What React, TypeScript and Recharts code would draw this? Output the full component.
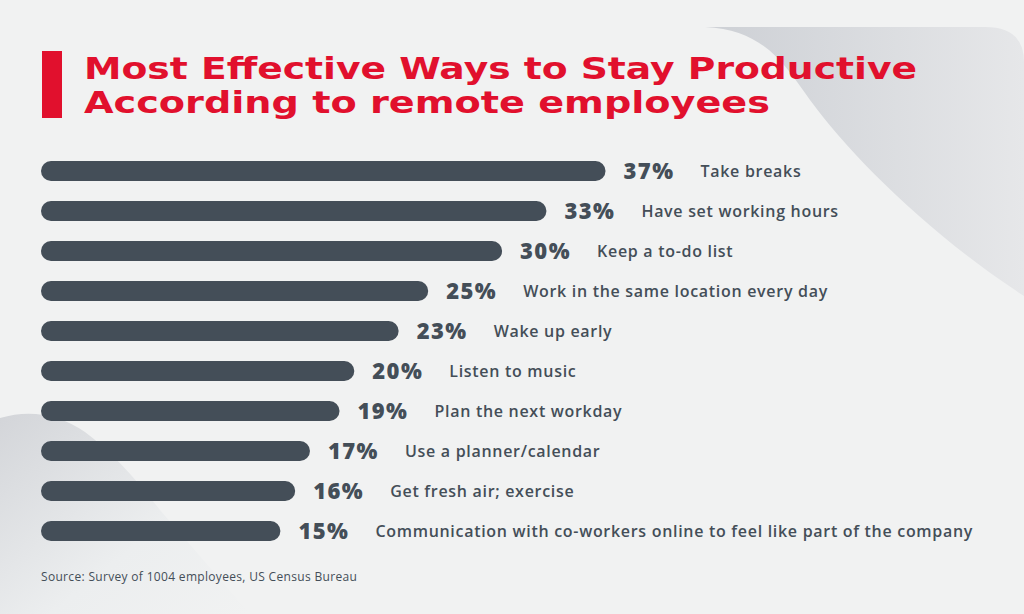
import React from "react";
import { BarChart, Bar, XAxis, YAxis, LabelList } from "recharts";

const categories = [
  "Take breaks",
  "Have set working hours",
  "Keep a to-do list",
  "Work in the same location every day",
  "Wake up early",
  "Listen to music",
  "Plan the next workday",
  "Use a planner/calendar",
  "Get fresh air; exercise",
  "Communication with co-workers online to feel like part of the company",
];
const percentages = [37, 33, 30, 25, 23, 20, 19, 17, 16, 15];

const data = categories.map((name, i) => ({ name, value: percentages[i] }));

const DARK = "#444e58";
const RED = "#e1102d";
const BAR_START = -1.2;
const AXIS_MAX = 59.7;

const PctLabel = (props: any) => {
  const { x, y, width, height, value } = props;
  return (
    <text
      x={x + width + 18}
      y={y + height / 2}
      dy="0.36em"
      fill={DARK}
      fontFamily="'Open Sans', sans-serif"
      fontWeight={800}
      fontSize={22}
      letterSpacing={1.4}
    >
      {value}%
    </text>
  );
};

const NameLabel = (props: any) => {
  const { x, y, width, height, value } = props;
  return (
    <text
      x={x + width + 95}
      y={y + height / 2}
      dy="0.35em"
      fill={DARK}
      fontFamily="'Open Sans', sans-serif"
      fontWeight={600}
      fontSize={16}
      letterSpacing={0.7}
    >
      {value}
    </text>
  );
};

export default function App() {
  return (
    <div
      style={{
        position: "absolute",
        left: 0,
        top: 0,
        width: 1024,
        height: 614,
        background: "#f1f2f2",
        overflow: "hidden",
      }}
    >
      <svg
        width={1024}
        height={614}
        style={{ position: "absolute", left: 0, top: 0 }}
      >
        <defs>
          <linearGradient id="tr" x1="0" y1="0" x2="1" y2="0">
            <stop offset="0" stopColor="#cdd0d5" />
            <stop offset="1" stopColor="#e6e7e9" />
          </linearGradient>
          <linearGradient id="bl" x1="0" y1="0" x2="1" y2="1">
            <stop offset="0" stopColor="#d3d5d9" />
            <stop offset="0.6" stopColor="#eceeef" />
            <stop offset="1" stopColor="#f1f2f2" />
          </linearGradient>
        </defs>
        <path
          d="M 705 27 C 765 30 785 65 810 100 C 850 155 930 235 1024 296 L 1024 62 Q 1024 27 985 27 Z"
          fill="url(#tr)"
        />
        <path
          d="M 0 418 Q 45 405 85 432 Q 120 458 160 510 L 250 614 L 0 614 Z"
          fill="url(#bl)"
        />
        <rect x={42} y={51} width={20} height={67} fill={RED} />
        <text
          x={84}
          y={79}
          fill={RED}
          fontFamily="'DejaVu Sans', sans-serif"
          fontWeight={700}
          fontSize={30}
          textLength={833}
          lengthAdjust="spacingAndGlyphs"
        >
          Most Effective Ways to Stay Productive
        </text>
        <text
          x={84}
          y={113}
          fill={RED}
          fontFamily="'DejaVu Sans', sans-serif"
          fontWeight={700}
          fontSize={30}
          textLength={686}
          lengthAdjust="spacingAndGlyphs"
        >
          According to remote employees
        </text>
        <text
          x={41}
          y={581}
          fill={DARK}
          fontFamily="'Open Sans', sans-serif"
          fontSize={12}
          letterSpacing={0.32}
        >
          Source: Survey of 1004 employees, US Census Bureau
        </text>
      </svg>
      <div style={{ position: "absolute", left: 0, top: 0 }}>
        <BarChart
          width={1024}
          height={614}
          data={data}
          layout="vertical"
          margin={{ top: 151, bottom: 63, left: 41, right: 83 }}
          barCategoryGap={0}
        >
          <XAxis type="number" hide domain={[BAR_START, AXIS_MAX]} />
          <YAxis type="category" dataKey="name" hide />
          <Bar
            dataKey={(d: any) => [BAR_START, d.value]}
            fill={DARK}
            barSize={20}
            radius={[10, 10, 10, 10]}
            isAnimationActive={false}
          >
            <LabelList dataKey="value" content={PctLabel} />
            <LabelList dataKey="name" content={NameLabel} />
          </Bar>
        </BarChart>
      </div>
    </div>
  );
}
